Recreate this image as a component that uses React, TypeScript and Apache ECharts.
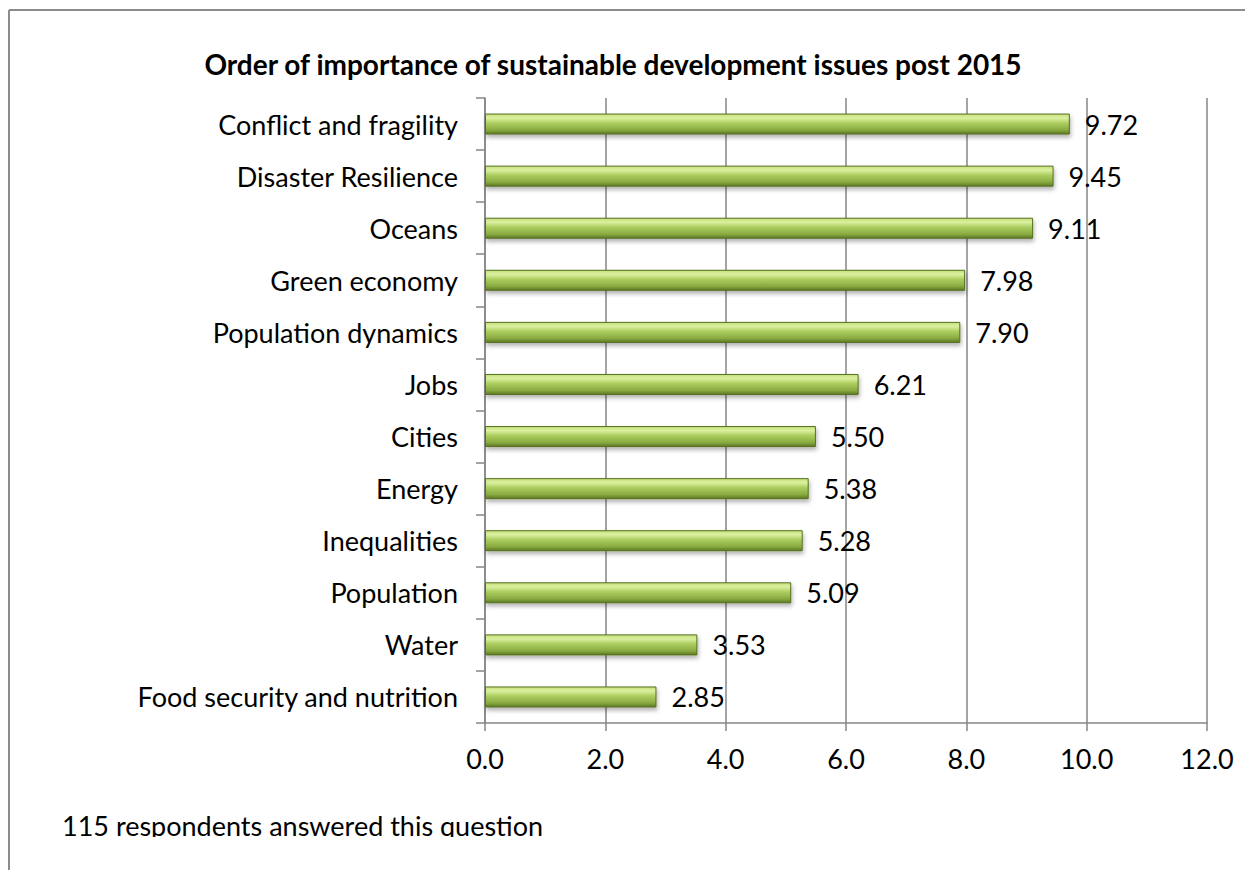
import React, { useEffect, useRef } from "react";
import * as echarts from "echarts";

const categories = [
  "Conflict and fragility",
  "Disaster Resilience",
  "Oceans",
  "Green economy",
  "Population dynamics",
  "Jobs",
  "Cities",
  "Energy",
  "Inequalities",
  "Population",
  "Water",
  "Food security and nutrition",
];
const values = [9.72, 9.45, 9.11, 7.98, 7.9, 6.21, 5.5, 5.38, 5.28, 5.09, 3.53, 2.85];
const xTickLabels = ["0.0", "2.0", "4.0", "6.0", "8.0", "10.0", "12.0"];
const titleText = "Order of importance of sustainable development issues post 2015";
const footerText = "115 respondents answered this question";

const FONT = "Lato, 'Open Sans', sans-serif";
const FS = 27;

export default function App() {
  const ref = useRef<HTMLDivElement>(null);
  useEffect(() => {
    if (!ref.current) return;
    const chart = echarts.init(ref.current, null, { renderer: "svg" });
    const barColor = new echarts.graphic.LinearGradient(0, 0, 0, 1, [
      { offset: 0, color: "#c4df78" },
      { offset: 0.2, color: "#dcf0a0" },
      { offset: 0.45, color: "#acce60" },
      { offset: 0.8, color: "#88aa40" },
      { offset: 1, color: "#5d7826" },
    ]);
    chart.setOption({
      animation: false,
      backgroundColor: "#ffffff",
      textStyle: { fontFamily: FONT },
      title: {
        text: titleText,
        left: 608,
        textAlign: "center",
        top: 45,
        textStyle: { fontFamily: FONT, fontWeight: "bold", fontSize: 28, color: "#000" },
      },
      grid: { left: 485, right: 38, top: 98, bottom: 147, containLabel: false },
      xAxis: {
        type: "value",
        min: 0,
        max: 12,
        interval: 2,
        axisLine: { show: true, lineStyle: { color: "#868686", width: 1.5 } },
        axisTick: { show: true, length: 8, lineStyle: { color: "#868686", width: 1.5 } },
        splitLine: { show: true, lineStyle: { color: "#868686", width: 1.5 } },
        axisLabel: {
          formatter: (v: number) => xTickLabels[Math.round(v / 2)] ?? v.toFixed(1),
          fontFamily: FONT,
          fontSize: FS,
          color: "#000",
          margin: 22,
        },
      },
      yAxis: {
        type: "category",
        inverse: true,
        data: categories,
        axisLine: { show: true, lineStyle: { color: "#868686", width: 1.5 } },
        axisTick: { show: true, length: 9, lineStyle: { color: "#868686", width: 1.5 } },
        axisLabel: { fontFamily: FONT, fontSize: FS, color: "#000", margin: 27 },
      },
      series: [
        {
          type: "bar",
          data: values,
          barWidth: 21,
          itemStyle: {
            color: barColor,
            borderColor: "#56701f",
            borderWidth: 1,
            shadowColor: "rgba(0,0,0,0.3)",
            shadowBlur: 4,
            shadowOffsetY: 3,
            shadowOffsetX: 1,
          },
          label: {
            show: true,
            position: "right",
            distance: 15,
            formatter: (p: any) => Number(p.value).toFixed(2),
            fontFamily: FONT,
            fontSize: FS,
            color: "#000",
          },
        },
      ],
      graphic: [
        {
          type: "text",
          left: 62,
          top: 812,
          z: 10,
          style: { text: footerText, fontFamily: FONT, fontSize: FS, fill: "#000" },
        },
        { type: "rect", z: 20, shape: { x: 11, y: 837, width: 1234, height: 33 }, style: { fill: "#fff" } },
        { type: "line", z: 30, shape: { x1: 9, y1: 10, x2: 1245, y2: 10 }, style: { stroke: "#8c8c8c", lineWidth: 2 } },
        { type: "line", z: 30, shape: { x1: 9, y1: 10, x2: 9, y2: 870 }, style: { stroke: "#8c8c8c", lineWidth: 2 } },
      ],
    });
    return () => chart.dispose();
  }, []);
  return (
    <div
      ref={ref}
      style={{ position: "fixed", left: 0, top: 0, width: 1245, height: 870, background: "#fff" }}
    />
  );
}
